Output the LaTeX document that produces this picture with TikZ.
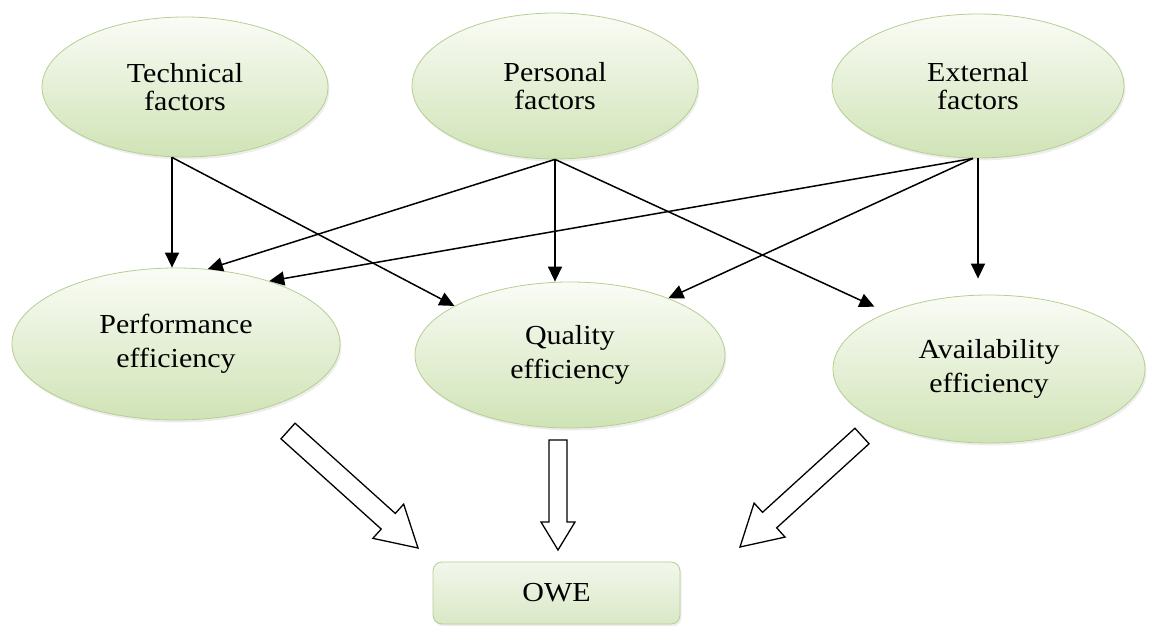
\documentclass[tikz,border=0pt]{standalone}
\usepackage{fontspec}
\setmainfont[FakeStretch=1.09]{Liberation Serif}
\usetikzlibrary{shapes.geometric,arrows.meta,calc,shadows}

\definecolor{gtop}{HTML}{FAFCF6}
\definecolor{gbot}{HTML}{D0E3B6}
\definecolor{gedge}{HTML}{B5CF92}
\definecolor{btop}{HTML}{F3F7EC}
\definecolor{bbot}{HTML}{D9E8C6}

\tikzset{
  softshadow/.style={drop shadow={opacity=0.14, shadow xshift=1.5pt, shadow yshift=-2.5pt}},
  factor/.style={ellipse, draw=gedge, line width=0.8pt, top color=gtop, bottom color=gbot,
    inner sep=0pt, align=center, softshadow, font=\fontsize{27.5}{28}\selectfont},
  effnode/.style={factor, font=\fontsize{27.5}{34}\selectfont},
  owebox/.style={rectangle, rounded corners=9pt, draw=gedge, line width=0.8pt,
    top color=btop, bottom color=bbot, minimum width=247pt, minimum height=62pt,
    inner sep=0pt, softshadow, font=\fontsize{27.5}{28}\selectfont},
  link/.style={line width=1.5pt, -{Triangle[length=15pt,width=14pt]}},
  hollow/.style={draw=black, line width=1.3pt, fill=white, line join=miter}
}

% hollow block arrow from #4 to #5: shaft half width #1, head half width #2, head length #3
\newcommand\hollowarrow[5]{%
  \coordinate (#4neck) at ($(#5)!#3!(#4)$);
  \draw[hollow] ($(#4)!#1!90:(#5)$) -- ($(#4neck)!#1!90:(#5)$)
    -- ($(#4neck)!#2!90:(#5)$) -- (#5) -- ($(#4neck)!#2!-90:(#5)$)
    -- ($(#4neck)!#1!-90:(#5)$) -- ($(#4)!#1!-90:(#5)$) -- cycle;}

\begin{document}
\begin{tikzpicture}[x=1pt, y=-1pt]
  \useasboundingbox (0,0) rectangle (1149,626);

  % factor row
  \node[factor, minimum width=286pt, minimum height=140pt] (tech) at (185,87) {Technical\\factors};
  \node[factor, minimum width=286pt, minimum height=146pt] (pers) at (555,86) {Personal\\factors};
  \node[factor, minimum width=292pt, minimum height=144pt] (ext)  at (978,86) {External\\factors};

  % efficiency row
  \node[effnode, minimum width=328pt, minimum height=152pt] (perf)  at (176,344) {Performance\\efficiency};
  \node[effnode, minimum width=310pt, minimum height=146pt] (qual)  at (570,355) {Quality\\efficiency};
  \node[effnode, minimum width=312pt, minimum height=148pt] (avail) at (989,369) {Availability\\efficiency};

  % result
  \node[owebox] (owe) at (556.5,593) {OWE};

  % links from the factors
  \coordinate (ts) at ([xshift=-13pt]tech.south);
  \draw[link] (ts) -- (ts |- perf.north);
  \draw[link] (ts) -- (qual.157);

  \draw[link] (pers.south) -- (perf.67);
  \draw[link] (pers.south) -- (pers.south |- qual.north);
  \draw[link, shorten >=14pt] (pers.south) -- (avail.151);

  \draw[link] ([xshift=-5pt]ext.south) -- (perf.34);
  \draw[link] ([xshift=-5pt]ext.south) -- (qual.30);
  \draw[link] (ext.south) -- ($(ext.south |- avail.north)+(0,-16)$);

  % hollow arrows into OWE
  \coordinate (la) at (288,431);
  \coordinate (lb) at (418,548);
  \coordinate (ma) at (558,440);
  \coordinate (mb) at (558,550);
  \coordinate (ra) at (862,436);
  \coordinate (rb) at (740,547);
  \hollowarrow{10.5pt}{23pt}{40pt}{la}{lb}
  \hollowarrow{9pt}{17pt}{28pt}{ma}{mb}
  \hollowarrow{10.5pt}{23pt}{40pt}{ra}{rb}
\end{tikzpicture}
\end{document}
